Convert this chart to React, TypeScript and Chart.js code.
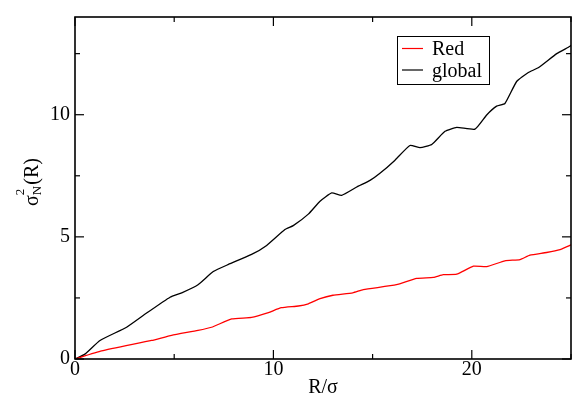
import { useEffect, useRef } from "react";
import { Chart, registerables } from "chart.js";

Chart.register(...registerables);

const FONT = "'Liberation Serif', 'Times New Roman', serif";

const seriesNames = ["Red", "global"];
const seriesColors = ["#ff0000", "#000000"];

const redR = [0, 1.34, 3.86, 4.87, 6.2, 6.88, 7.9, 8.9, 9.75, 10.4, 11.26, 11.76, 12.35, 13.0, 14.0, 14.53, 16.2, 17.22, 18.06, 18.56, 19.24, 20.08, 20.75, 21.67, 22.43, 22.93, 23.77, 24.45, 24.95, 25];
const redV = [0, 0.33, 0.76, 0.97, 1.17, 1.3, 1.64, 1.7, 1.9, 2.1, 2.17, 2.26, 2.47, 2.61, 2.71, 2.84, 3.04, 3.3, 3.34, 3.45, 3.47, 3.8, 3.78, 4.02, 4.07, 4.25, 4.36, 4.48, 4.65, 4.68];

const globalR = [0, 0.5, 1.26, 2.6, 3.61, 4.79, 5.38, 6.2, 6.97, 7.73, 8.9, 9.66, 10.58, 11.0, 11.76, 12.35, 12.94, 13.44, 14.2, 14.87, 15.37, 16.13, 16.88, 17.39, 17.98, 18.65, 19.24, 20.16, 20.75, 21.25, 21.67, 22.26, 22.85, 23.35, 24.28, 24.95, 25];
const globalV = [0, 0.2, 0.76, 1.3, 1.88, 2.53, 2.71, 3.04, 3.58, 3.87, 4.28, 4.65, 5.3, 5.46, 5.93, 6.46, 6.8, 6.7, 7.04, 7.31, 7.6, 8.14, 8.74, 8.65, 8.78, 9.32, 9.48, 9.41, 9.99, 10.35, 10.46, 11.36, 11.73, 11.92, 12.5, 12.8, 12.85];

const xMajorTicks = [0, 10, 20];
const xMinorTicks = [5, 15, 25];
const yMajorTicks = [0, 5, 10];
const yMinorTicks = [2.5, 7.5, 12.5];
const xRange = [0, 25];
const yRange = [0, 14];
const xTitle = "R/σ";

const framePlugin = {
  id: "xmgrFrame",
  afterDraw(chart: any) {
    const { ctx, chartArea: a, scales } = chart;
    const sx = scales.x;
    const sy = scales.y;
    ctx.save();
    ctx.strokeStyle = "#000";
    ctx.lineWidth = 1.2;
    const seg = (x1: number, y1: number, x2: number, y2: number) => {
      ctx.beginPath();
      ctx.moveTo(x1, y1);
      ctx.lineTo(x2, y2);
      ctx.stroke();
    };
    const MAJ = 9;
    const MIN = 5;
    for (const v of xMajorTicks) {
      const p = sx.getPixelForValue(v);
      seg(p, a.bottom, p, a.bottom - MAJ);
      seg(p, a.top, p, a.top + MAJ);
    }
    for (const v of xMinorTicks) {
      const p = sx.getPixelForValue(v);
      seg(p, a.bottom, p, a.bottom - MIN);
      seg(p, a.top, p, a.top + MIN);
    }
    for (const v of yMajorTicks) {
      const p = sy.getPixelForValue(v);
      seg(a.left, p, a.left + MAJ, p);
      seg(a.right, p, a.right - MAJ, p);
    }
    for (const v of yMinorTicks) {
      const p = sy.getPixelForValue(v);
      seg(a.left, p, a.left + MIN, p);
      seg(a.right, p, a.right - MIN, p);
    }
    ctx.lineWidth = 1.6;
    ctx.strokeRect(a.left, a.top, a.right - a.left, a.bottom - a.top);

    // Legend
    const lx = 397, ly = 36, lw = 92, lh = 48;
    ctx.fillStyle = "#fff";
    ctx.fillRect(lx, ly, lw, lh);
    ctx.lineWidth = 1;
    ctx.strokeStyle = "#000";
    ctx.strokeRect(lx + 0.5, ly + 0.5, lw, lh);
    ctx.font = `20px ${FONT}`;
    ctx.textBaseline = "alphabetic";
    ctx.textAlign = "left";
    chart.data.datasets.forEach((ds: any, i: number) => {
      const yy = 48.5 + i * 21.5;
      ctx.strokeStyle = ds.borderColor;
      ctx.lineWidth = 1.2;
      seg(402, yy, 423, yy);
      ctx.fillStyle = "#000";
      ctx.fillText(ds.label, 432, yy + 6.5);
    });

    // Y title: sigma^2_N(R)
    ctx.translate(32, 182);
    ctx.rotate(-Math.PI / 2);
    ctx.fillStyle = "#000";
    ctx.font = `20px ${FONT}`;
    const w1 = ctx.measureText("σ").width;
    const w3 = ctx.measureText("(R)").width;
    ctx.font = `13px ${FONT}`;
    const w2 = Math.max(ctx.measureText("2").width, ctx.measureText("N").width);
    const total = w1 + w2 + 1 + w3;
    let cx = -total / 2;
    ctx.font = `20px ${FONT}`;
    ctx.fillText("σ", cx, 6);
    cx += w1;
    ctx.font = `13px ${FONT}`;
    ctx.fillText("2", cx, -8);
    ctx.fillText("N", cx, 9);
    cx += w2 + 1;
    ctx.font = `20px ${FONT}`;
    ctx.fillText("(R)", cx, 6);
    ctx.restore();
  },
};

export default function App() {
  const ref = useRef<HTMLCanvasElement>(null);
  useEffect(() => {
    if (!ref.current) return;
    Chart.defaults.font.family = FONT;
    const chart = new Chart(ref.current, {
      type: "line",
      data: {
        datasets: [
          {
            label: seriesNames[0],
            data: redR.map((x, i) => ({ x, y: redV[i] })),
            borderColor: seriesColors[0],
            borderWidth: 1.3,
            pointRadius: 0,
            fill: false,
            tension: 0.15,
          },
          {
            label: seriesNames[1],
            data: globalR.map((x, i) => ({ x, y: globalV[i] })),
            borderColor: seriesColors[1],
            borderWidth: 1.3,
            pointRadius: 0,
            fill: false,
            tension: 0.15,
          },
        ],
      },
      options: {
        animation: false,
        responsive: false,
        layout: { padding: { left: 0, right: 4, top: 12, bottom: 0 } },
        plugins: { legend: { display: false }, tooltip: { enabled: false } },
        scales: {
          x: {
            type: "linear",
            min: xRange[0],
            max: xRange[1],
            afterBuildTicks: (s: any) => {
              s.ticks = xMajorTicks.map((v) => ({ value: v }));
            },
            afterFit: (s: any) => {
              s.height = 40;
            },
            grid: { display: false, drawTicks: false },
            border: { display: false },
            ticks: {
              padding: 0,
              color: "#000",
              font: { family: FONT, size: 20, lineHeight: 1.1 },
              maxRotation: 0,
            },
            title: {
              display: true,
              text: xTitle,
              color: "#000",
              font: { family: FONT, size: 20, lineHeight: 1 },
              padding: { top: 0, bottom: 1 },
            },
          },
          y: {
            type: "linear",
            min: yRange[0],
            max: yRange[1],
            afterBuildTicks: (s: any) => {
              s.ticks = yMajorTicks.map((v) => ({ value: v }));
            },
            afterFit: (s: any) => {
              s.width = 75;
            },
            grid: { display: false, drawTicks: false },
            border: { display: false },
            ticks: {
              padding: 5,
              color: "#000",
              font: { family: FONT, size: 20, lineHeight: 1.2 },
            },
          },
        },
      },
      plugins: [framePlugin],
    });
    let alive = true;
    const fonts = (document as any).fonts;
    if (fonts && fonts.load) {
      Promise.all([
        fonts.load("20px 'Liberation Serif'", "R/σ global 0123456789"),
        fonts.load("13px 'Liberation Serif'", "2N"),
      ])
        .catch(() => undefined)
        .then(() => fonts.ready)
        .then(() => {
          if (alive) chart.update("none");
        });
    }
    return () => {
      alive = false;
      chart.destroy();
    };
  }, []);
  return (
    <div style={{ position: "fixed", left: 0, top: 0, width: 575, height: 399, background: "#fff" }}>
      <canvas ref={ref} width={575} height={399} style={{ display: "block" }} />
    </div>
  );
}
